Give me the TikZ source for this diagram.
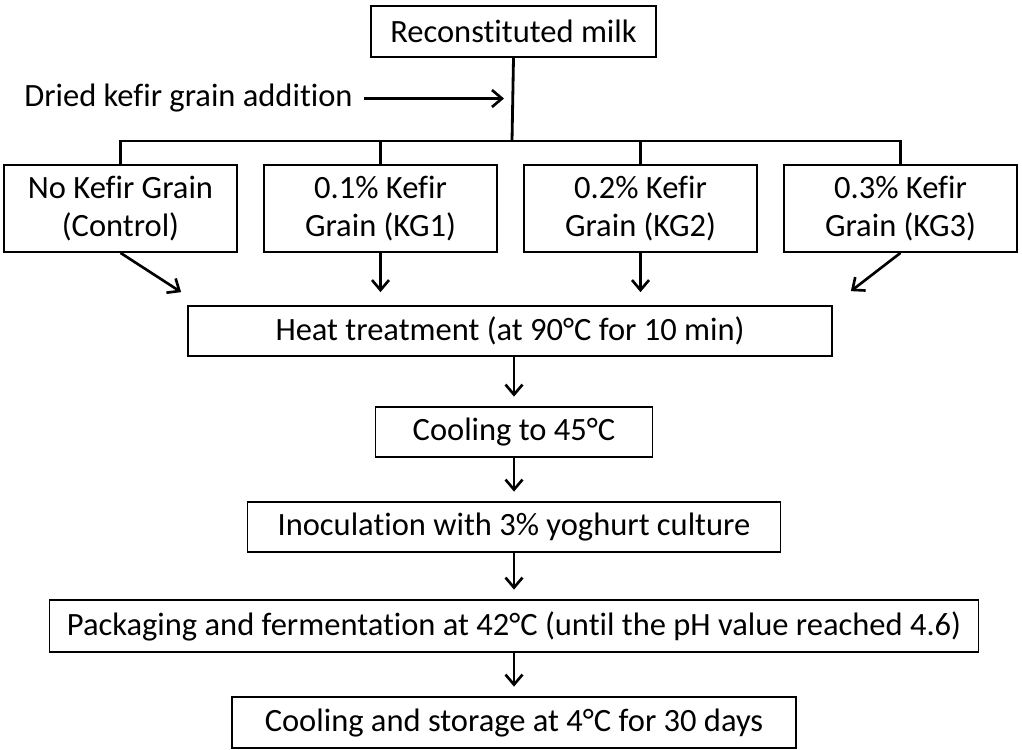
\documentclass[tikz,border=0pt]{standalone}
\usepackage{fontspec}
\setmainfont{Carlito}[Ligatures=NoCommon]
\usepackage{tikz}
\usetikzlibrary{positioning,arrows.meta,calc}
\tikzset{
  kfbox/.style={draw=black, line width=1pt, align=center,
                font=\fontsize{18.5}{21.5}\selectfont, inner sep=2pt, minimum height=10mm},
  kfarrow/.style={-{Straight Barb[length=2mm,width=3.4mm]}, line width=1.5pt},
  kfline/.style={line width=1.6pt},
  kflabel/.style={font=\fontsize{18.5}{21.5}\selectfont, align=left},
}

\begin{document}
\begin{tikzpicture}[
            grp/.style={kfbox, minimum width=4.66cm, minimum height=17.4mm},
            seq/.style={kfarrow, shorten >=1.9mm}
        ]
            \useasboundingbox (0,0) rectangle (20.44,-14.98);
            \node[kfbox, minimum width=5.7cm, minimum height=10.2mm] (milk) at (10.27,-0.63) {Reconstituted milk};
            \node[kflabel] (addtxt) at (3.77,-1.97) {Dried kefir grain addition};
            \coordinate (addin) at (10.08,-1.97);
            \coordinate (split) at (10.24,-2.82);
            \node[grp] (kg0) at (2.41,-4.17) {No Kefir Grain\\(Control)};
            \node[grp] (kg1) at (7.61,-4.17) {0.1\% Kefir\\Grain (KG1)};
            \node[grp] (kg2) at (12.81,-4.17) {0.2\% Kefir\\Grain (KG2)};
            \node[grp] (kg3) at (18.01,-4.17) {0.3\% Kefir\\Grain (KG3)};
            \node[kfbox, minimum width=12.88cm] (heat) at (10.2,-6.62) {Heat treatment (at 90°C for 10 min)};
            \node[kfbox, minimum width=5.54cm] (cool) at (10.28,-8.64) {Cooling to 45°C};
            \node[kfbox, minimum width=10.66cm] (inoc) at (10.28,-10.54) {Inoculation with 3\% yoghurt culture};
            \node[kfbox, minimum width=18.58cm, minimum height=10.4mm] (pack) at (10.28,-12.52) {Packaging and fermentation at 42°C (until the pH value reached 4.6)};
            \node[kfbox, minimum width=11.28cm, minimum height=10.2mm] (store) at (10.28,-14.45) {Cooling and storage at 4°C for 30 days};
            % split into the four groups
            \draw[kfline] (milk.south) -- (split);
            \draw[kfline] (kg0.north) |- (split) -| (kg3.north);
            \draw[kfline] (kg1.north) -- (kg1.north |- split);
            \draw[kfline] (kg2.north) -- (kg2.north |- split);
            \draw[kfarrow] ([xshift=1mm]addtxt.east) -- (addin);
            % groups into heat treatment
            \draw[kfarrow] (kg0.south) -- ([shift={(-0.12,0.26)}]heat.north west);
            \draw[kfarrow, shorten >=2.6mm] (kg1.south) -- (kg1.south |- heat.north);
            \draw[kfarrow, shorten >=2.6mm] (kg2.south) -- (kg2.south |- heat.north);
            \draw[kfarrow] (kg3.south) -- ([shift={(0.36,0.28)}]heat.north east);
            % process chain
            \draw[seq] (cool.north |- heat.south) -- (cool.north);
            \draw[seq] (cool) -- (inoc);
            \draw[seq] (inoc) -- (pack);
            \draw[seq] (pack) -- (store);
        \end{tikzpicture}
\end{document}
